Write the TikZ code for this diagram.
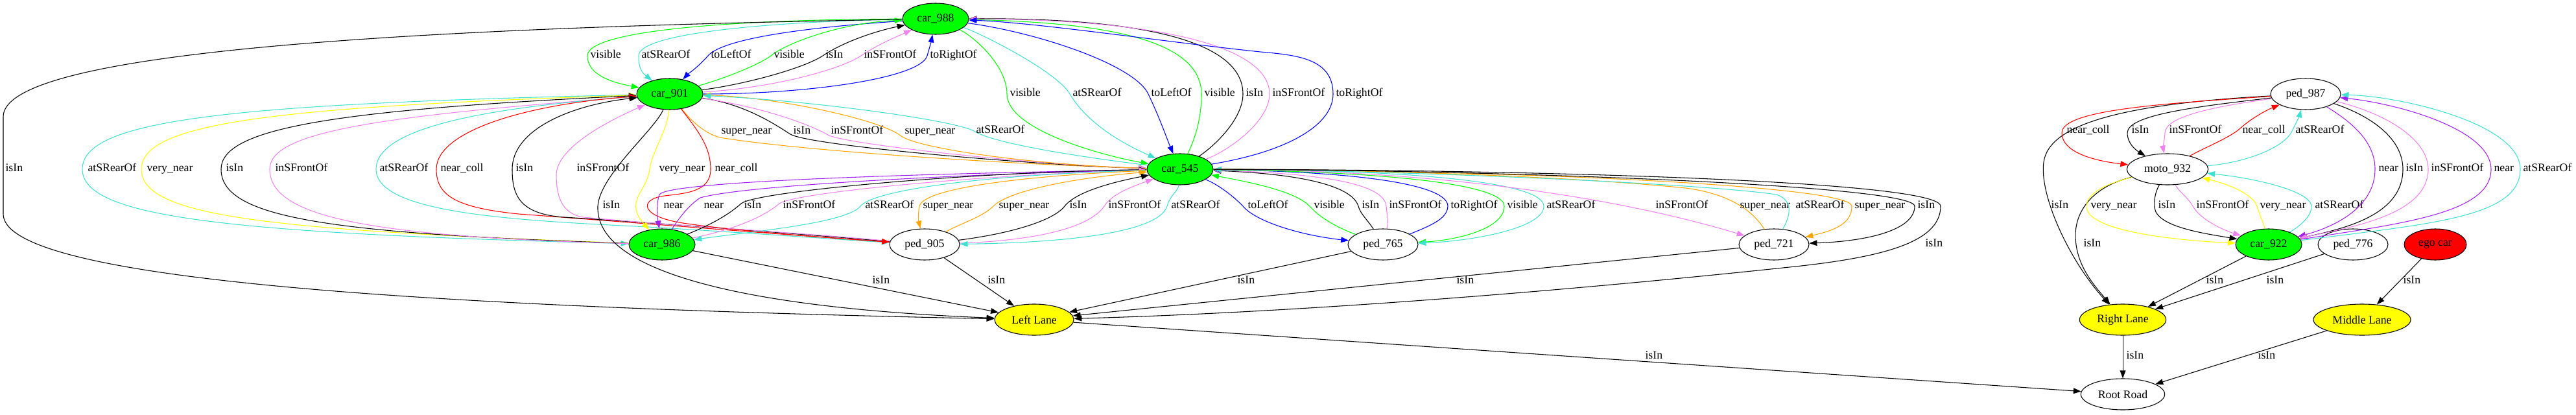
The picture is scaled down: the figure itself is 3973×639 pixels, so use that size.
\documentclass[tikz,border=0pt]{standalone}
\usepackage{fontspec}
\setmainfont{Liberation Serif}
\usetikzlibrary{shapes.geometric, arrows.meta}

\definecolor{gvgreen}{HTML}{00FF00}
\definecolor{gvturq}{HTML}{40E0D0}
\definecolor{gvviolet}{HTML}{EE82EE}
\definecolor{gvorange}{HTML}{FFA500}
\definecolor{gvyellow}{HTML}{FFFF00}
\definecolor{gvpurple}{HTML}{A020F0}
\definecolor{gvred}{HTML}{FF0000}

\begin{document}
\begin{tikzpicture}[
  x=0.75pt, y=-0.75pt,
  obj/.style  = {draw, ellipse, inner sep=0pt, line width=0.8pt,
                 minimum height=36pt, minimum width=76.5pt,
                 font=\fontsize{13.3}{16}\selectfont},
  car/.style  = {obj, fill=gvgreen},
  ped/.style  = {obj, fill=white, minimum width=81pt},
  lane/.style = {obj, fill=gvyellow},
  rel/.style  = {-{Triangle[length=9pt,width=6.5pt]}, line width=0.8pt},
  lbl/.style  = {anchor=west, inner sep=0pt, text=black,
                 text height=1.6ex, text depth=0.3ex,
                 font=\fontsize{13.3}{16}\selectfont}
]
\useasboundingbox (0,0) rectangle (3973,639);

%── Objekte ───────────────────────────────────────────────────────────────
\node[car] (c988) at (1443,29)  {car\_988};
\node[car] (c901) at (1033,145) {car\_901};
\node[car] (c545) at (1820,261) {car\_545};
\node[car] (c986) at (1021,377) {car\_986};
\node[ped] (p905) at (1426,377) {ped\_905};
\node[ped] (p765) at (2133,377) {ped\_765};
\node[ped] (p721) at (2736,377) {ped\_721};
\node[lane, minimum width=91.5pt] (LL) at (1595,493) {Left Lane};

\node[ped] (p987) at (3556,145) {ped\_987};
\node[ped, minimum width=94pt] (m932) at (3343,261) {moto\_932};
\node[car] (c922) at (3499,377) {car\_922};
\node[ped] (p776) at (3629,377) {ped\_776};
\node[obj, fill=gvred, minimum width=72pt] (ego) at (3756,377) {ego car};
\node[lane, minimum width=100pt] (RL) at (3274,493) {Right Lane};
\node[lane, minimum width=112.5pt] (ML) at (3643,493) {Middle Lane};
\node[ped, minimum width=97pt] (RR) at (3274,608) {Root Road};

%── car_988 <-> car_901 ───────────────────────────────────────────────────
\draw[rel, gvgreen] (c988) .. controls (1150,30) and (906,45) .. (906,86)
  .. controls (906,118) and (950,128) .. (c901) node[lbl] at (910,86) {visible};
\draw[rel, gvturq] (c988) .. controls (1200,33) and (985,50) .. (985,86)
  .. controls (985,105) and (990,112) .. (c901) node[lbl] at (989,86) {atSRearOf};
\draw[rel, blue] (c988) .. controls (1200,45) and (1110,65) .. (1092,86)
  .. controls (1075,105) and (1060,115) .. (c901) node[lbl] at (1096,86) {toLeftOf};
\draw[rel, gvgreen] (c901) .. controls (1120,120) and (1170,100) .. (1189,86)
  .. controls (1215,65) and (1300,35) .. (c988) node[lbl] at (1193,86) {visible};
\draw[rel, black] (c901) .. controls (1150,130) and (1240,105) .. (1269,86)
  .. controls (1300,65) and (1350,48) .. (c988) node[lbl] at (1273,86) {isIn};
\draw[rel, gvviolet] (c901) .. controls (1200,135) and (1300,105) .. (1328,86)
  .. controls (1355,68) and (1380,58) .. (c988) node[lbl] at (1332,86) {inSFrontOf};
\draw[rel, blue] (c901) .. controls (1250,145) and (1420,120) .. (1430,86)
  .. controls (1434,72) and (1436,65) .. (c988) node[lbl] at (1434,86) {toRightOf};

%── car_988 <-> car_545 ───────────────────────────────────────────────────
\draw[rel, gvgreen] (c988) .. controls (1500,55) and (1553,100) .. (1553,145)
  .. controls (1553,200) and (1700,240) .. (c545) node[lbl] at (1557,145) {visible};
\draw[rel, gvturq] (c988) .. controls (1510,50) and (1630,110) .. (1650,145)
  .. controls (1680,195) and (1740,225) .. (c545) node[lbl] at (1654,145) {atSRearOf};
\draw[rel, blue] (c988) .. controls (1600,50) and (1750,100) .. (1771,145)
  .. controls (1790,185) and (1800,215) .. (c545) node[lbl] at (1775,145) {toLeftOf};
\draw[rel, gvgreen] (c545) .. controls (1845,210) and (1853,180) .. (1853,145)
  .. controls (1853,60) and (1700,35) .. (c988) node[lbl] at (1857,145) {visible};
\draw[rel, black] (c545) .. controls (1880,220) and (1917,180) .. (1917,145)
  .. controls (1917,60) and (1750,28) .. (c988) node[lbl] at (1921,145) {isIn};
\draw[rel, gvviolet] (c545) .. controls (1900,230) and (1958,185) .. (1958,145)
  .. controls (1958,70) and (1780,30) .. (c988) node[lbl] at (1962,145) {inSFrontOf};
\draw[rel, blue] (c545) .. controls (1980,235) and (2056,195) .. (2056,145)
  .. controls (2056,90) and (2000,85) .. (1944,80)
  .. controls (1800,65) and (1600,35) .. (c988) node[lbl] at (2060,145) {toRightOf};

%── car_901 <-> car_545 ───────────────────────────────────────────────────
\draw[rel, gvorange] (c901) .. controls (1065,185) and (1085,205) .. (1110,212)
  .. controls (1250,235) and (1600,255) .. (c545) node[lbl] at (1112,203) {super\_near};
\draw[rel, black] (c901) .. controls (1150,160) and (1200,195) .. (1219,207)
  .. controls (1250,225) and (1600,255) .. (c545) node[lbl] at (1223,203) {isIn};
\draw[rel, gvviolet] (c901) .. controls (1180,165) and (1255,195) .. (1277,208)
  .. controls (1300,222) and (1600,255) .. (c545) node[lbl] at (1281,203) {inSFrontOf};
\draw[rel, gvorange] (c545) .. controls (1600,255) and (1420,230) .. (1390,210)
  .. controls (1360,185) and (1200,150) .. (c901) node[lbl] at (1395,203) {super\_near};
\draw[rel, gvturq] (c545) .. controls (1650,240) and (1530,220) .. (1502,202)
  .. controls (1470,185) and (1250,155) .. (c901) node[lbl] at (1505,202) {atSRearOf};

%── car_901 <-> car_986, aussen links ─────────────────────────────────────
\draw[rel, gvturq] (c901) .. controls (350,160) and (127,185) .. (127,261)
  .. controls (127,335) and (350,360) .. (c986) node[lbl] at (135,261) {atSRearOf};
\draw[rel, gvyellow] (c986) .. controls (420,355) and (218,335) .. (218,261)
  .. controls (218,190) and (420,165) .. (c901) node[lbl] at (226,261) {very\_near};
\draw[rel, black] (c986) .. controls (500,360) and (341,335) .. (341,261)
  .. controls (341,200) and (500,170) .. (c901) node[lbl] at (348,261) {isIn};
\draw[rel, gvviolet] (c986) .. controls (570,365) and (416,335) .. (416,261)
  .. controls (416,205) and (570,180) .. (c901) node[lbl] at (424,261) {inSFrontOf};

%── car_901 <-> ped_905 ───────────────────────────────────────────────────
\draw[rel, gvturq] (c901) .. controls (760,165) and (580,195) .. (580,261)
  .. controls (580,330) and (800,340) .. (1000,350)
  .. controls (1200,362) and (1300,370) .. (p905) node[lbl] at (585,261) {atSRearOf};
\draw[rel, gvred] (p905) .. controls (1250,365) and (1000,345) .. (800,330)
  .. controls (700,320) and (673,300) .. (673,261)
  .. controls (673,200) and (820,160) .. (c901) node[lbl] at (679,261) {near\_coll};
\draw[rel, black] (p905) .. controls (1250,362) and (1000,343) .. (870,335)
  .. controls (800,330) and (790,300) .. (790,261)
  .. controls (790,200) and (880,162) .. (c901) node[lbl] at (795,261) {isIn};
\draw[rel, gvviolet] (p905) .. controls (1250,360) and (1000,345) .. (900,335)
  .. controls (865,330) and (858,300) .. (858,270)
  .. controls (858,230) and (930,190) .. (c901) node[lbl] at (889,261) {inSFrontOf};

%── car_901 nach unten ────────────────────────────────────────────────────
\draw[rel, gvyellow] (c901) .. controls (1030,200) and (1005,235) .. (1002,261)
  .. controls (998,295) and (962,310) .. (c986) node[lbl] at (1016,261) {very\_near};
\draw[rel, gvred] (c901) .. controls (1075,200) and (1096,225) .. (1096,261)
  .. controls (1096,295) and (1060,298) .. (1025,302)
  .. controls (985,307) and (985,335) .. (1060,345)
  .. controls (1150,358) and (1300,368) .. (p905) node[lbl] at (1102,261) {near\_coll};
\draw[rel, black] (c901) .. controls (1010,200) and (925,270) .. (922,318)
  .. controls (918,420) and (1150,475) .. (LL) node[lbl] at (929,318) {isIn};

%── car_545 <-> car_986 / ped_905 ─────────────────────────────────────────
\draw[rel, gvpurple] (c545) .. controls (1400,268) and (1030,280) .. (1017,300)
  .. controls (1013,310) and (1013,330) .. (c986) node[lbl] at (1023,318) {near};
\draw[rel, gvpurple] (c986) .. controls (1045,340) and (1060,318) .. (1080,305)
  .. controls (1150,285) and (1500,268) .. (c545) node[lbl] at (1085,318) {near};
\draw[rel, black] (c986) .. controls (1100,345) and (1125,330) .. (1143,314)
  .. controls (1165,295) and (1500,265) .. (c545) node[lbl] at (1147,318) {isIn};
\draw[rel, gvviolet] (c986) .. controls (1150,350) and (1185,328) .. (1202,314)
  .. controls (1222,298) and (1500,270) .. (c545) node[lbl] at (1207,318) {inSFrontOf};
\draw[rel, gvturq] (c545) .. controls (1500,270) and (1345,295) .. (1327,318)
  .. controls (1305,345) and (1150,358) .. (c986) node[lbl] at (1334,318) {atSRearOf};
\draw[rel, gvorange] (c545) .. controls (1600,270) and (1425,288) .. (1418,318)
  .. controls (1416,330) and (1416,338) .. (p905) node[lbl] at (1423,318) {super\_near};
\draw[rel, gvorange] (p905) .. controls (1480,345) and (1515,335) .. (1532,318)
  .. controls (1555,295) and (1650,275) .. (c545) node[lbl] at (1540,318) {super\_near};
\draw[rel, black] (p905) .. controls (1560,360) and (1625,340) .. (1642,318)
  .. controls (1660,295) and (1720,280) .. (c545) node[lbl] at (1649,318) {isIn};
\draw[rel, gvviolet] (p905) .. controls (1620,370) and (1685,345) .. (1703,318)
  .. controls (1715,300) and (1740,290) .. (c545) node[lbl] at (1709,318) {inSFrontOf};
\draw[rel, gvturq] (c545) .. controls (1817,295) and (1805,300) .. (1800,318)
  .. controls (1785,365) and (1600,375) .. (p905) node[lbl] at (1806,318) {atSRearOf};

%── car_545 <-> ped_765 ───────────────────────────────────────────────────
\draw[rel, blue] (c545) .. controls (1880,285) and (1905,305) .. (1917,318)
  .. controls (1935,340) and (2000,362) .. (p765) node[lbl] at (1924,318) {toLeftOf};
\draw[rel, gvgreen] (p765) .. controls (2060,350) and (2035,335) .. (2020,318)
  .. controls (2000,298) and (1950,285) .. (c545) node[lbl] at (2026,318) {visible};
\draw[rel, black] (p765) .. controls (2110,340) and (2098,330) .. (2095,318)
  .. controls (2085,285) and (2000,268) .. (c545) node[lbl] at (2100,318) {isIn};
\draw[rel, gvviolet] (p765) .. controls (2142,340) and (2139,330) .. (2138,318)
  .. controls (2135,285) and (2050,268) .. (c545) node[lbl] at (2142,318) {inSFrontOf};
\draw[rel, blue] (p765) .. controls (2215,345) and (2232,335) .. (2233,318)
  .. controls (2233,285) and (2100,265) .. (c545) node[lbl] at (2237,318) {toRightOf};
\draw[rel, gvgreen] (c545) .. controls (2150,265) and (2320,285) .. (2320,318)
  .. controls (2320,352) and (2250,370) .. (p765) node[lbl] at (2324,318) {visible};
\draw[rel, gvturq] (c545) .. controls (2220,262) and (2381,285) .. (2381,318)
  .. controls (2381,352) and (2270,372) .. (p765) node[lbl] at (2385,318) {atSRearOf};

%── car_545 <-> ped_721 ───────────────────────────────────────────────────
\draw[rel, gvviolet] (c545) .. controls (2200,262) and (2480,300) .. (p721)
  node[lbl] at (2553,318) {inSFrontOf};
\draw[rel, gvorange] (p721) .. controls (2700,320) and (2660,298) .. (2600,290)
  .. controls (2400,270) and (2100,262) .. (c545) node[lbl] at (2683,318) {super\_near};
\draw[rel, gvturq] (p721) .. controls (2760,335) and (2768,310) .. (2740,300)
  .. controls (2600,280) and (2100,262) .. (c545) node[lbl] at (2769,318) {atSRearOf};
\draw[rel, gvorange] (c545) .. controls (2300,262) and (2856,285) .. (2856,318)
  .. controls (2856,345) and (2830,355) .. (p721) node[lbl] at (2860,318) {super\_near};
\draw[rel, black] (c545) .. controls (2300,262) and (2953,285) .. (2953,318)
  .. controls (2953,355) and (2880,372) .. (p721) node[lbl] at (2957,318) {isIn};
\draw[rel, black] (c545) .. controls (2400,262) and (2993,280) .. (2993,318)
  .. controls (2993,375) and (2900,398) .. (2750,413)
  .. controls (2400,450) and (2000,482) .. (LL) node[lbl] at (2969,377) {isIn};

%── Spuren links ──────────────────────────────────────────────────────────
\draw[rel] (c988) .. controls (500,45) and (5,90) .. (5,180) -- (5,330)
  .. controls (5,420) and (500,470) .. (LL) node[lbl] at (8,261) {isIn};
\draw[rel] (c986) -- (LL) node[lbl] at (1345,434) {isIn};
\draw[rel] (p905) -- (LL) node[lbl] at (1523,434) {isIn};
\draw[rel] (p765) -- (LL) node[lbl] at (1908,434) {isIn};
\draw[rel] (p721) -- (LL) node[lbl] at (2246,434) {isIn};
\draw[rel] (LL) -- (RR) node[lbl] at (2537,550) {isIn};

%── ped_987 / moto_932 / car_922 ──────────────────────────────────────────
\draw[rel, black] (p987) .. controls (3280,160) and (3160,190) .. (3152,250)
  .. controls (3145,300) and (3190,400) .. (RL) node[lbl] at (3163,318) {isIn};
\draw[rel, black] (m932) .. controls (3235,285) and (3200,320) .. (3201,365)
  .. controls (3202,410) and (3230,440) .. (RL) node[lbl] at (3213,377) {isIn};
\draw[rel, gvred] (p987) .. controls (3330,160) and (3180,170) .. (3180,205)
  .. controls (3180,235) and (3230,248) .. (m932) node[lbl] at (3187,202) {near\_coll};
\draw[rel, black] (p987) .. controls (3380,165) and (3281,178) .. (3281,205)
  .. controls (3281,222) and (3295,232) .. (m932) node[lbl] at (3287,202) {isIn};
\draw[rel, gvviolet] (p987) .. controls (3410,165) and (3340,180) .. (3339,205)
  .. controls (3338,218) and (3336,228) .. (m932) node[lbl] at (3345,202) {inSFrontOf};
\draw[rel, gvred] (m932) .. controls (3395,230) and (3440,212) .. (3455,198)
  .. controls (3475,180) and (3500,168) .. (p987) node[lbl] at (3458,202) {near\_coll};
\draw[rel, gvturq] (m932) .. controls (3470,250) and (3525,225) .. (3535,202)
  .. controls (3542,188) and (3546,180) .. (p987) node[lbl] at (3540,202) {atSRearOf};
\draw[rel, gvyellow] (m932) .. controls (3260,280) and (3216,295) .. (3218,320)
  .. controls (3222,360) and (3380,372) .. (c922) node[lbl] at (3224,318) {very\_near};
\draw[rel, black] (m932) .. controls (3325,295) and (3322,305) .. (3323,320)
  .. controls (3326,350) and (3400,360) .. (c922) node[lbl] at (3328,318) {isIn};
\draw[rel, gvviolet] (m932) .. controls (3360,295) and (3375,305) .. (3382,318)
  .. controls (3395,340) and (3430,355) .. (c922) node[lbl] at (3387,318) {inSFrontOf};
\draw[rel, gvyellow] (c922) .. controls (3490,340) and (3484,330) .. (3481,318)
  .. controls (3475,300) and (3440,285) .. (m932) node[lbl] at (3485,318) {very\_near};
\draw[rel, gvturq] (c922) .. controls (3545,350) and (3565,335) .. (3565,318)
  .. controls (3564,295) and (3480,275) .. (m932) node[lbl] at (3570,318) {atSRearOf};
\draw[rel, gvpurple] (p987) .. controls (3630,190) and (3663,220) .. (3663,261)
  .. controls (3663,320) and (3600,350) .. (c922) node[lbl] at (3668,261) {near};
\draw[rel, black] (p987) .. controls (3660,180) and (3706,215) .. (3706,261)
  .. controls (3706,330) and (3620,352) .. (c922) node[lbl] at (3710,261) {isIn};
\draw[rel, gvviolet] (p987) .. controls (3680,175) and (3745,215) .. (3745,261)
  .. controls (3745,330) and (3630,350) .. (c922) node[lbl] at (3749,261) {inSFrontOf};
\draw[rel, gvpurple] (c922) .. controls (3700,345) and (3842,330) .. (3842,261)
  .. controls (3842,200) and (3700,160) .. (p987) node[lbl] at (3846,261) {near};
\draw[rel, gvturq] (c922) .. controls (3750,345) and (3887,335) .. (3887,261)
  .. controls (3887,190) and (3700,148) .. (p987) node[lbl] at (3891,261) {atSRearOf};

%── Spuren rechts ─────────────────────────────────────────────────────────
\draw[rel] (c922) -- (RL) node[lbl] at (3402,434) {isIn};
\draw[rel] (p776) -- (RL) node[lbl] at (3495,434) {isIn};
\draw[rel] (ego) -- (ML) node[lbl] at (3706,434) {isIn};
\draw[rel] (RL) -- (RR) node[lbl] at (3279,550) {isIn};
\draw[rel] (ML) -- (RR) node[lbl] at (3482,550) {isIn};

\end{tikzpicture}
\end{document}
